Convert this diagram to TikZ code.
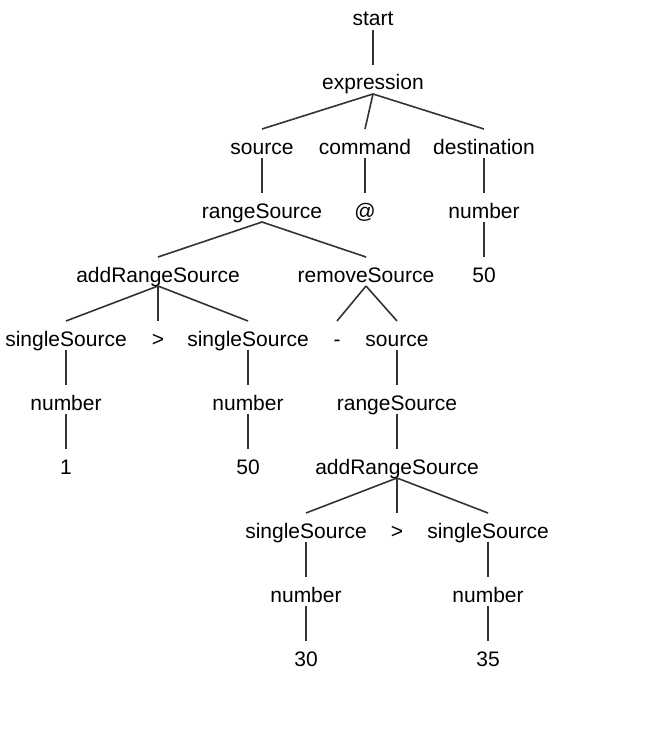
\documentclass[tikz,border=0pt]{standalone}
\usepackage{fontspec}
\setmainfont{Liberation Sans}
\begin{document}
\begin{tikzpicture}[x=1pt,y=-1pt,font=\fontsize{21}{25}\selectfont,
  tok/.style={anchor=base,inner sep=0pt},
  branch/.style={draw=black!80,line width=1.6pt}]
 \useasboundingbox (0,0) rectangle (664,741);
 % rows are 64 apart, given by their baselines
 \node[tok] (start) at (373,26) {start};
 \node[tok] (expr) at (373,90) {expression};
 \node[tok] (src) at (262,154) {source};
 \node[tok] (cmd) at (365,154) {command};
 \node[tok] (dest) at (484,154) {destination};
 \node[tok] (range) at (262,218) {rangeSource};
 \node[tok] (atsign) at (365,218) {@};
 \node[tok] (num) at (484,218) {number};
 \node[tok] (addrange) at (158,282) {addRangeSource};
 \node[tok] (remove) at (366,282) {removeSource};
 \node[tok] (fifty) at (484,282) {50};
 \node[tok] (single1) at (66,346) {singleSource};
 \node[tok] (gt1) at (158,346) {>};
 \node[tok] (single2) at (248,346) {singleSource};
 \node[tok] (minus) at (337,346) {-};
 \node[tok] (src2) at (397,346) {source};
 \node[tok] (num1) at (66,410) {number};
 \node[tok] (num2) at (248,410) {number};
 \node[tok] (range2) at (397,410) {rangeSource};
 \node[tok] (one) at (66,474) {1};
 \node[tok] (fifty2) at (248,474) {50};
 \node[tok] (addrange2) at (397,474) {addRangeSource};
 \node[tok] (single3) at (306,538) {singleSource};
 \node[tok] (gt2) at (397,538) {>};
 \node[tok] (single4) at (488,538) {singleSource};
 \node[tok] (num3) at (306,602) {number};
 \node[tok] (num4) at (488,602) {number};
 \node[tok] (thirty) at (306,666) {30};
 \node[tok] (thirtyfive) at (488,666) {35};
 % branches
 \foreach \p/\c in {start/expr,expr/src,expr/cmd,expr/dest,src/range,cmd/atsign,
   dest/num,num/fifty,range/addrange,range/remove,addrange/single1,addrange/gt1,
   addrange/single2,remove/minus,remove/src2,single1/num1,single2/num2,src2/range2,
   num1/one,num2/fifty2,range2/addrange2,addrange2/single3,addrange2/gt2,
   addrange2/single4,single3/num3,single4/num4,num3/thirty,num4/thirtyfive}
  \draw[branch] ([yshift=-4pt]\p.base) -- ([yshift=25pt]\c.base);
\end{tikzpicture}
\end{document}
